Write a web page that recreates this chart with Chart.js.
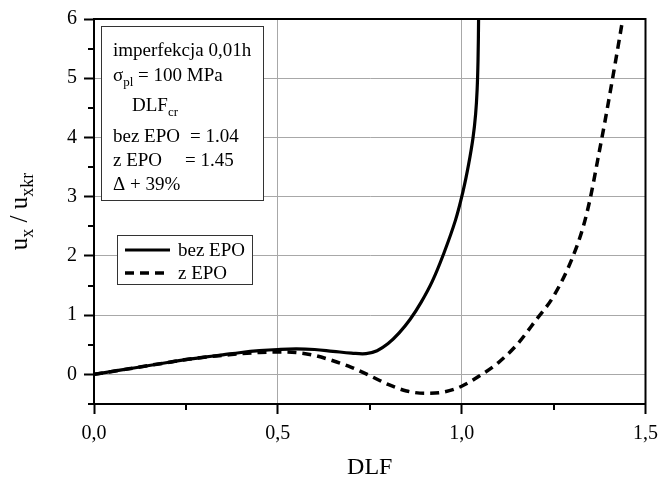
<!DOCTYPE html>
<html>
<head>
<meta charset="utf-8">
<script src="https://cdn.jsdelivr.net/npm/chart.js@4.4.1/dist/chart.umd.min.js"></script>
<style>
  html, body { margin: 0; padding: 0; background: #fff; }
  #wrap { width: 666px; height: 482px; }
</style>
</head>
<body>
<div id="wrap"><canvas id="dlfChart" width="666" height="482"></canvas></div>
<script>
// DLF vs. u_x / u_xkr, without and with EPO
const dlfBez = [0, 0.05, 0.10, 0.15, 0.20, 0.25, 0.30, 0.35, 0.40, 0.45, 0.50, 0.55, 0.60, 0.65, 0.70, 0.74, 0.77, 0.80, 0.83, 0.86, 0.89, 0.92, 0.95, 0.983, 1.004, 1.019, 1.031, 1.038, 1.042, 1.0445, 1.046, 1.047];
const uBez   = [0, 0.05, 0.10, 0.15, 0.20, 0.25, 0.29, 0.33, 0.37, 0.40, 0.42, 0.43, 0.42, 0.39, 0.36, 0.35, 0.40, 0.52, 0.70, 0.93, 1.22, 1.57, 2.02, 2.60, 3.10, 3.55, 4.00, 4.40, 4.80, 5.30, 6.00, 6.60];

const dlfZ = [0, 0.05, 0.10, 0.15, 0.20, 0.25, 0.30, 0.35, 0.40, 0.45, 0.50, 0.55, 0.60, 0.65, 0.70, 0.75, 0.80, 0.85, 0.90, 0.95, 1.00, 1.05, 1.10, 1.15, 1.20, 1.25, 1.30, 1.33, 1.35, 1.37, 1.39, 1.41, 1.425, 1.438, 1.45];
const uZ   = [0, 0.05, 0.10, 0.15, 0.20, 0.25, 0.29, 0.32, 0.35, 0.37, 0.38, 0.37, 0.32, 0.23, 0.12, -0.02, -0.17, -0.28, -0.32, -0.30, -0.20, -0.02, 0.20, 0.50, 0.90, 1.32, 1.95, 2.48, 2.98, 3.62, 4.28, 4.98, 5.52, 6.00, 6.50];

const seriesNames = ['bez EPO', 'z EPO'];

const xMajor = [0, 0.5, 1.0, 1.5];
const xMinor = [0.25, 0.75, 1.25];
const yMajor = [0, 1, 2, 3, 4, 5, 6];
const yMinor = [-0.5, 0.5, 1.5, 2.5, 3.5, 4.5, 5.5];

const FONT = "'Liberation Serif', 'Times New Roman', serif";

const toPoints = (xs, ys) => xs.map((v, i) => ({ x: v, y: ys[i] }));

// draws a run of [text, isSub] pieces starting at x, returns end x
function richText(ctx, parts, x, y, size, subSize, subDrop) {
  parts.forEach(([txt, sub]) => {
    ctx.font = (sub ? subSize : size) + 'px ' + FONT;
    ctx.fillText(txt, x, sub ? y + subDrop : y);
    x += ctx.measureText(txt).width;
  });
  return x;
}

function richWidth(ctx, parts, size, subSize) {
  let w = 0;
  parts.forEach(([txt, sub]) => {
    ctx.font = (sub ? subSize : size) + 'px ' + FONT;
    w += ctx.measureText(txt).width;
  });
  return w;
}

const decorations = {
  id: 'decorations',
  afterDraw(chart) {
    const { ctx, chartArea: a, scales: { x, y } } = chart;
    ctx.save();

    // minor ticks, outward
    ctx.strokeStyle = '#000';
    ctx.lineWidth = 2;
    ctx.beginPath();
    xMinor.forEach(v => {
      const px = Math.round(x.getPixelForValue(v));
      ctx.moveTo(px, a.bottom);
      ctx.lineTo(px, a.bottom + 6);
    });
    yMinor.forEach(v => {
      const py = Math.round(y.getPixelForValue(v));
      ctx.moveTo(a.left, py);
      ctx.lineTo(a.left - 6, py);
    });
    ctx.stroke();

    // close the frame on top and right
    ctx.beginPath();
    ctx.moveTo(a.left - 1, a.top);
    ctx.lineTo(a.right, a.top);
    ctx.lineTo(a.right, a.bottom + 1);
    ctx.stroke();

    // y axis title with subscripts
    ctx.fillStyle = '#000';
    ctx.textBaseline = 'alphabetic';
    ctx.textAlign = 'left';
    const yTitle = [['u', false], ['x', true], [' / u', false], ['xkr', true]];
    ctx.save();
    ctx.translate(27, (a.top + a.bottom) / 2);
    ctx.rotate(-Math.PI / 2);
    const tw = richWidth(ctx, yTitle, 25, 18);
    richText(ctx, yTitle, -tw / 2, 0, 25, 18, 6);
    ctx.restore();

    // parameter box
    const bx = a.left + 7, by = a.top + 7, bw = 162, bh = 174;
    ctx.fillStyle = '#fff';
    ctx.fillRect(bx, by, bw, bh);
    ctx.strokeStyle = '#333';
    ctx.lineWidth = 1;
    ctx.strokeRect(bx + 0.5, by + 0.5, bw, bh);

    ctx.fillStyle = '#000';
    const tx = bx + 12;
    richText(ctx, [['imperfekcja 0,01h', false]], tx, by + 30, 19, 13, 5);
    richText(ctx, [['σ', false], ['pl', true], [' = 100 MPa', false]], tx, by + 55, 19, 13, 5);
    richText(ctx, [['DLF', false], ['cr', true]], tx + 19, by + 85, 19, 13, 5);
    richText(ctx, [['bez EPO', false]], tx, by + 116, 19, 13, 5);
    richText(ctx, [['= 1.04', false]], tx + 77, by + 116, 19, 13, 5);
    richText(ctx, [['z EPO', false]], tx, by + 140, 19, 13, 5);
    richText(ctx, [['= 1.45', false]], tx + 72, by + 140, 19, 13, 5);
    richText(ctx, [['Δ + 39%', false]], tx, by + 164, 19, 13, 5);

    // legend box
    const lx = a.left + 23, ly = 235, lw = 135, lh = 49;
    ctx.fillStyle = '#fff';
    ctx.fillRect(lx, ly, lw, lh);
    ctx.strokeStyle = '#333';
    ctx.strokeRect(lx + 0.5, ly + 0.5, lw, lh);
    chart.data.datasets.forEach((ds, i) => {
      const cy = ly + 15 + i * 23;
      ctx.strokeStyle = ds.borderColor;
      ctx.lineWidth = ds.borderWidth;
      ctx.setLineDash(ds.borderDash || []);
      ctx.beginPath();
      ctx.moveTo(lx + 8, cy);
      ctx.lineTo(lx + 53, cy);
      ctx.stroke();
      ctx.setLineDash([]);
      ctx.fillStyle = '#000';
      richText(ctx, [[ds.label, false]], lx + 61, cy + 6, 19, 13, 5);
    });

    ctx.restore();
  }
};

new Chart(document.getElementById('dlfChart'), {
  type: 'scatter',
  data: {
    datasets: [
      {
        label: seriesNames[0],
        data: toPoints(dlfBez, uBez),
        showLine: true,
        borderColor: '#000',
        borderWidth: 3.2,
        pointRadius: 0,
        tension: 0.4
      },
      {
        label: seriesNames[1],
        data: toPoints(dlfZ, uZ),
        showLine: true,
        borderColor: '#000',
        borderWidth: 3.5,
        borderDash: [9, 6],
        pointRadius: 0,
        cubicInterpolationMode: 'monotone'
      }
    ]
  },
  options: {
    responsive: false,
    animation: false,
    layout: { padding: { top: 15, right: 14, left: 0, bottom: 0 } },
    plugins: { legend: { display: false }, tooltip: { enabled: false } },
    scales: {
      x: {
        type: 'linear',
        min: 0,
        max: 1.5,
        afterBuildTicks: scale => { scale.ticks = xMajor.map(v => ({ value: v })); },
        afterFit: scale => { scale.height = 78; },
        ticks: {
          color: '#000',
          padding: 8,
          maxRotation: 0,
          font: { family: FONT, size: 20 },
          callback: v => v.toFixed(1).replace('.', ',')
        },
        grid: { color: '#a8a8a8', lineWidth: 1, tickLength: 10, tickColor: '#000', tickWidth: 2 },
        border: { color: '#000', width: 2 },
        title: {
          display: true,
          text: 'DLF',
          color: '#000',
          font: { family: FONT, size: 24 },
          padding: { top: 0, bottom: 0 }
        }
      },
      y: {
        type: 'linear',
        min: -0.5,
        max: 6,
        afterBuildTicks: scale => { scale.ticks = yMajor.map(v => ({ value: v })); },
        afterFit: scale => { scale.width = 94; },
        ticks: {
          color: '#000',
          padding: 7,
          font: { family: FONT, size: 20 },
          callback: v => String(v)
        },
        grid: { color: '#a8a8a8', lineWidth: 1, tickLength: 10, tickColor: '#000', tickWidth: 2 },
        border: { color: '#000', width: 2 }
      }
    }
  },
  plugins: [decorations]
});
</script>
</body>
</html>
